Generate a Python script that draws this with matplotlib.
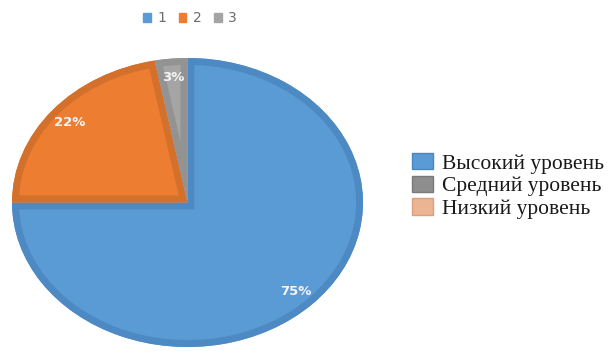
import matplotlib
matplotlib.use("Agg")
import matplotlib.pyplot as plt
from matplotlib.patches import Patch, Wedge

# Data
levels = ["Высокий уровень", "Средний уровень", "Низкий уровень"]
series_ids = ["1", "2", "3"]
shares = [75, 22, 3]

fill_colors = ["#5B9BD5", "#ED7D31", "#A5A5A5"]
edge_colors = ["#4D8AC3", "#D2702C", "#939393"]

W, H = 614, 351
fig = plt.figure(figsize=(W / 100, H / 100), dpi=100)

# Pie area (stretched horizontally into an ellipse)
left, right, top, bottom = 12, 363, 58, 347
ax = fig.add_axes([left / W, 1 - bottom / H, (right - left) / W, (bottom - top) / H])

wedges, texts, autotexts = ax.pie(
    shares,
    colors=fill_colors,
    startangle=90,
    counterclock=False,
    autopct="%1.0f%%",
    pctdistance=0.87,
    wedgeprops=dict(linewidth=0),
    textprops=dict(color="#F4F4F4", fontsize=9.5, fontweight="bold"),
)
# Inner border of each slice: a stroke of the same wedge, clipped to the slice
for w, ec in zip(wedges, edge_colors):
    rim = Wedge(w.center, w.r, w.theta1, w.theta2, facecolor="none",
                edgecolor=ec, linewidth=10, zorder=w.get_zorder() + 0.1)
    ax.add_patch(rim)
    rim.set_clip_path(w)
for t in autotexts:
    t.set_zorder(5)
ax.set_aspect("auto")
ax.set_xlim(-1, 1)
ax.set_ylim(-1, 1)
ax.axis("off")

# Top legend (series ids)
top_handles = [Patch(facecolor=c, edgecolor=c) for c in fill_colors]
fig.legend(
    top_handles, series_ids,
    loc="center", bbox_to_anchor=(190 / W, 1 - 18 / H),
    ncol=3, frameon=False, fontsize=10, labelcolor="#6B6B6B",
    handlelength=0.55, handleheight=0.6, handletextpad=0.45,
    columnspacing=0.9, borderpad=0,
)

# Right legend (levels)
lvl_colors = ["#5B9BD5", "#8E8E8E", "#EBB493"]
lvl_edges = ["#4A86C0", "#7A7A7A", "#D9A07E"]
right_handles = [Patch(facecolor=c, edgecolor=e, linewidth=1) for c, e in zip(lvl_colors, lvl_edges)]
fig.legend(
    right_handles, levels,
    loc="center left", bbox_to_anchor=(401 / W, 1 - 186 / H),
    frameon=False, prop=dict(family="Liberation Serif", size=15.5),
    labelcolor="#1A1A1A",
    handlelength=1.0, handleheight=0.78, handletextpad=0.4,
    labelspacing=0.1, borderpad=0,
)

fig.savefig("out.png", dpi=100, facecolor="white")
